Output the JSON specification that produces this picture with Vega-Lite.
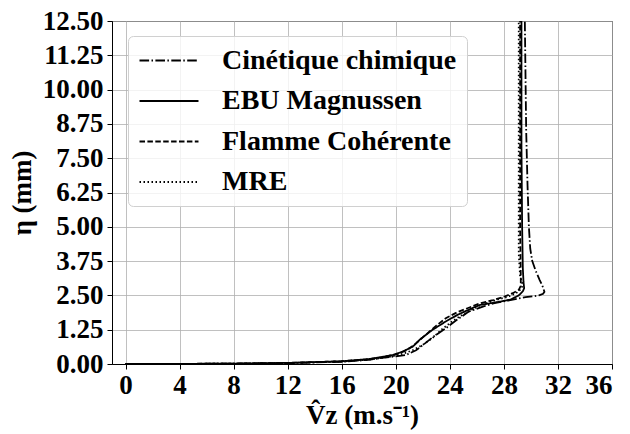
{
  "$schema": "https://vega.github.io/schema/vega-lite/v6.json",
  "width": 500,
  "height": 343,
  "autosize": {"type": "none"},
  "padding": {"left": 112, "top": 21, "right": 18, "bottom": 70},
  "background": "white",
  "config": {
    "view": {"stroke": "black", "strokeWidth": 1},
    "axis": {
      "domainColor": "black",
      "tickColor": "black",
      "tickSize": 5,
      "labelFont": "Liberation Serif",
      "labelFontWeight": "bold",
      "labelFontSize": 27,
      "labelColor": "black",
      "titleFont": "Liberation Serif",
      "titleFontWeight": "bold",
      "titleFontSize": 27,
      "titleColor": "black",
      "gridColor": "#b0b0b0",
      "gridWidth": 0.8
    }
  },
  "data": {
    "values": [
      {"model": "Cinétique chimique", "i": 0, "v": 0, "eta": 0},
      {"model": "Cinétique chimique", "i": 1, "v": 4, "eta": 0.005},
      {"model": "Cinétique chimique", "i": 2, "v": 8, "eta": 0.01},
      {"model": "Cinétique chimique", "i": 3, "v": 12, "eta": 0.03},
      {"model": "Cinétique chimique", "i": 4, "v": 16, "eta": 0.08},
      {"model": "Cinétique chimique", "i": 5, "v": 18, "eta": 0.15},
      {"model": "Cinétique chimique", "i": 6, "v": 18.8, "eta": 0.21},
      {"model": "Cinétique chimique", "i": 7, "v": 20, "eta": 0.28},
      {"model": "Cinétique chimique", "i": 8, "v": 20.75, "eta": 0.33},
      {"model": "Cinétique chimique", "i": 9, "v": 21.5, "eta": 0.5},
      {"model": "Cinétique chimique", "i": 10, "v": 22, "eta": 0.69},
      {"model": "Cinétique chimique", "i": 11, "v": 22.8, "eta": 1.0},
      {"model": "Cinétique chimique", "i": 12, "v": 23.7, "eta": 1.3},
      {"model": "Cinétique chimique", "i": 13, "v": 24.5, "eta": 1.6},
      {"model": "Cinétique chimique", "i": 14, "v": 25.4, "eta": 1.91},
      {"model": "Cinétique chimique", "i": 15, "v": 26.5, "eta": 2.1},
      {"model": "Cinétique chimique", "i": 16, "v": 27.3, "eta": 2.22},
      {"model": "Cinétique chimique", "i": 17, "v": 28.2, "eta": 2.3},
      {"model": "Cinétique chimique", "i": 18, "v": 29.0, "eta": 2.38},
      {"model": "Cinétique chimique", "i": 19, "v": 29.6, "eta": 2.44},
      {"model": "Cinétique chimique", "i": 20, "v": 30.2, "eta": 2.47},
      {"model": "Cinétique chimique", "i": 21, "v": 30.6, "eta": 2.5},
      {"model": "Cinétique chimique", "i": 22, "v": 30.9, "eta": 2.56},
      {"model": "Cinétique chimique", "i": 23, "v": 31.0, "eta": 2.63},
      {"model": "Cinétique chimique", "i": 24, "v": 30.85, "eta": 2.85},
      {"model": "Cinétique chimique", "i": 25, "v": 30.65, "eta": 3.06},
      {"model": "Cinétique chimique", "i": 26, "v": 30.35, "eta": 3.4},
      {"model": "Cinétique chimique", "i": 27, "v": 30.1, "eta": 3.75},
      {"model": "Cinétique chimique", "i": 28, "v": 29.95, "eta": 4.2},
      {"model": "Cinétique chimique", "i": 29, "v": 29.85, "eta": 5.0},
      {"model": "Cinétique chimique", "i": 30, "v": 29.75, "eta": 6.5},
      {"model": "Cinétique chimique", "i": 31, "v": 29.65, "eta": 8.5},
      {"model": "Cinétique chimique", "i": 32, "v": 29.6, "eta": 10.5},
      {"model": "Cinétique chimique", "i": 33, "v": 29.55, "eta": 12.5},

      {"model": "EBU Magnussen", "i": 0, "v": 0, "eta": 0},
      {"model": "EBU Magnussen", "i": 1, "v": 4, "eta": 0.005},
      {"model": "EBU Magnussen", "i": 2, "v": 8, "eta": 0.015},
      {"model": "EBU Magnussen", "i": 3, "v": 12, "eta": 0.04},
      {"model": "EBU Magnussen", "i": 4, "v": 16, "eta": 0.1},
      {"model": "EBU Magnussen", "i": 5, "v": 18, "eta": 0.18},
      {"model": "EBU Magnussen", "i": 6, "v": 18.8, "eta": 0.24},
      {"model": "EBU Magnussen", "i": 7, "v": 19.8, "eta": 0.33},
      {"model": "EBU Magnussen", "i": 8, "v": 20.5, "eta": 0.45},
      {"model": "EBU Magnussen", "i": 9, "v": 21.25, "eta": 0.63},
      {"model": "EBU Magnussen", "i": 10, "v": 21.8, "eta": 0.9},
      {"model": "EBU Magnussen", "i": 11, "v": 22.7, "eta": 1.24},
      {"model": "EBU Magnussen", "i": 12, "v": 23.7, "eta": 1.55},
      {"model": "EBU Magnussen", "i": 13, "v": 24.6, "eta": 1.8},
      {"model": "EBU Magnussen", "i": 14, "v": 25.5, "eta": 2.0},
      {"model": "EBU Magnussen", "i": 15, "v": 26.2, "eta": 2.15},
      {"model": "EBU Magnussen", "i": 16, "v": 27.7, "eta": 2.27},
      {"model": "EBU Magnussen", "i": 17, "v": 28.5, "eta": 2.35},
      {"model": "EBU Magnussen", "i": 18, "v": 29.1, "eta": 2.5},
      {"model": "EBU Magnussen", "i": 19, "v": 29.4, "eta": 2.65},
      {"model": "EBU Magnussen", "i": 20, "v": 29.5, "eta": 2.76},
      {"model": "EBU Magnussen", "i": 21, "v": 29.45, "eta": 3.0},
      {"model": "EBU Magnussen", "i": 22, "v": 29.4, "eta": 3.5},
      {"model": "EBU Magnussen", "i": 23, "v": 29.35, "eta": 5.0},
      {"model": "EBU Magnussen", "i": 24, "v": 29.3, "eta": 8.0},
      {"model": "EBU Magnussen", "i": 25, "v": 29.3, "eta": 12.5},

      {"model": "Flamme Cohérente", "i": 0, "v": 0, "eta": 0},
      {"model": "Flamme Cohérente", "i": 1, "v": 4, "eta": 0.005},
      {"model": "Flamme Cohérente", "i": 2, "v": 8, "eta": 0.015},
      {"model": "Flamme Cohérente", "i": 3, "v": 12, "eta": 0.04},
      {"model": "Flamme Cohérente", "i": 4, "v": 16, "eta": 0.1},
      {"model": "Flamme Cohérente", "i": 5, "v": 18, "eta": 0.17},
      {"model": "Flamme Cohérente", "i": 6, "v": 19, "eta": 0.25},
      {"model": "Flamme Cohérente", "i": 7, "v": 20, "eta": 0.35},
      {"model": "Flamme Cohérente", "i": 8, "v": 20.8, "eta": 0.5},
      {"model": "Flamme Cohérente", "i": 9, "v": 21.5, "eta": 0.75},
      {"model": "Flamme Cohérente", "i": 10, "v": 22.3, "eta": 1.1},
      {"model": "Flamme Cohérente", "i": 11, "v": 23, "eta": 1.4},
      {"model": "Flamme Cohérente", "i": 12, "v": 23.7, "eta": 1.67},
      {"model": "Flamme Cohérente", "i": 13, "v": 24.6, "eta": 1.9},
      {"model": "Flamme Cohérente", "i": 14, "v": 25.4, "eta": 2.05},
      {"model": "Flamme Cohérente", "i": 15, "v": 26.2, "eta": 2.21},
      {"model": "Flamme Cohérente", "i": 16, "v": 27.2, "eta": 2.33},
      {"model": "Flamme Cohérente", "i": 17, "v": 28.0, "eta": 2.45},
      {"model": "Flamme Cohérente", "i": 18, "v": 28.65, "eta": 2.58},
      {"model": "Flamme Cohérente", "i": 19, "v": 29.1, "eta": 2.7},
      {"model": "Flamme Cohérente", "i": 20, "v": 29.25, "eta": 2.85},
      {"model": "Flamme Cohérente", "i": 21, "v": 29.25, "eta": 3.2},
      {"model": "Flamme Cohérente", "i": 22, "v": 29.2, "eta": 5.0},
      {"model": "Flamme Cohérente", "i": 23, "v": 29.2, "eta": 12.5},

      {"model": "MRE", "i": 0, "v": 0, "eta": 0},
      {"model": "MRE", "i": 1, "v": 4, "eta": 0.005},
      {"model": "MRE", "i": 2, "v": 8, "eta": 0.012},
      {"model": "MRE", "i": 3, "v": 12, "eta": 0.035},
      {"model": "MRE", "i": 4, "v": 16, "eta": 0.09},
      {"model": "MRE", "i": 5, "v": 18, "eta": 0.16},
      {"model": "MRE", "i": 6, "v": 19, "eta": 0.22},
      {"model": "MRE", "i": 7, "v": 20, "eta": 0.3},
      {"model": "MRE", "i": 8, "v": 20.8, "eta": 0.42},
      {"model": "MRE", "i": 9, "v": 21.25, "eta": 0.5},
      {"model": "MRE", "i": 10, "v": 22, "eta": 0.7},
      {"model": "MRE", "i": 11, "v": 22.7, "eta": 0.94},
      {"model": "MRE", "i": 12, "v": 23.5, "eta": 1.3},
      {"model": "MRE", "i": 13, "v": 24.3, "eta": 1.6},
      {"model": "MRE", "i": 14, "v": 25.3, "eta": 1.9},
      {"model": "MRE", "i": 15, "v": 26.3, "eta": 2.15},
      {"model": "MRE", "i": 16, "v": 27.4, "eta": 2.33},
      {"model": "MRE", "i": 17, "v": 28.3, "eta": 2.45},
      {"model": "MRE", "i": 18, "v": 28.9, "eta": 2.58},
      {"model": "MRE", "i": 19, "v": 29.3, "eta": 2.75},
      {"model": "MRE", "i": 20, "v": 29.4, "eta": 2.88},
      {"model": "MRE", "i": 21, "v": 29.2, "eta": 3.2},
      {"model": "MRE", "i": 22, "v": 29.1, "eta": 4.0},
      {"model": "MRE", "i": 23, "v": 29.1, "eta": 12.5}
    ]
  },
  "mark": {"type": "line", "color": "black", "strokeWidth": 1.8, "clip": true},
  "encoding": {
    "x": {
      "field": "v",
      "type": "quantitative",
      "scale": {"domain": [-1, 36], "nice": false, "zero": false},
      "axis": {
        "values": [0, 4, 8, 12, 16, 20, 24, 28, 32, 36],
        "format": "d",
        "title": "V̂z (m.s⁻¹)",
        "labelPadding": 3,
        "titlePadding": 4
      }
    },
    "y": {
      "field": "eta",
      "type": "quantitative",
      "scale": {"domain": [0, 12.5], "nice": false},
      "axis": {
        "values": [0, 1.25, 2.5, 3.75, 5, 6.25, 7.5, 8.75, 10, 11.25, 12.5],
        "format": ".2f",
        "title": "η (mm)",
        "labelPadding": 4,
        "titlePadding": 6
      }
    },
    "order": {"field": "i", "type": "quantitative"},
    "strokeDash": {
      "field": "model",
      "type": "nominal",
      "scale": {
        "domain": ["Cinétique chimique", "EBU Magnussen", "Flamme Cohérente", "MRE"],
        "range": [[9.6, 2.4, 1.5, 2.4], [1, 0], [5.5, 2.4], [1.5, 2.5]]
      },
      "legend": {
        "orient": "none",
        "legendX": 16,
        "legendY": 15,
        "title": null,
        "symbolType": "M-0.963,0H3.407",
        "symbolSize": 729,
        "symbolStrokeColor": "black",
        "symbolStrokeWidth": 2,
        "symbolFillColor": "transparent",
        "labelFont": "Liberation Serif",
        "labelFontWeight": "bold",
        "labelFontSize": 28,
        "labelColor": "black",
        "labelLimit": 500,
        "labelOffset": 55,
        "rowPadding": 11.5,
        "padding": 10,
        "fillColor": "rgba(255,255,255,0.8)",
        "strokeColor": "#d0d0d0",
        "cornerRadius": 5
      }
    }
  }
}
